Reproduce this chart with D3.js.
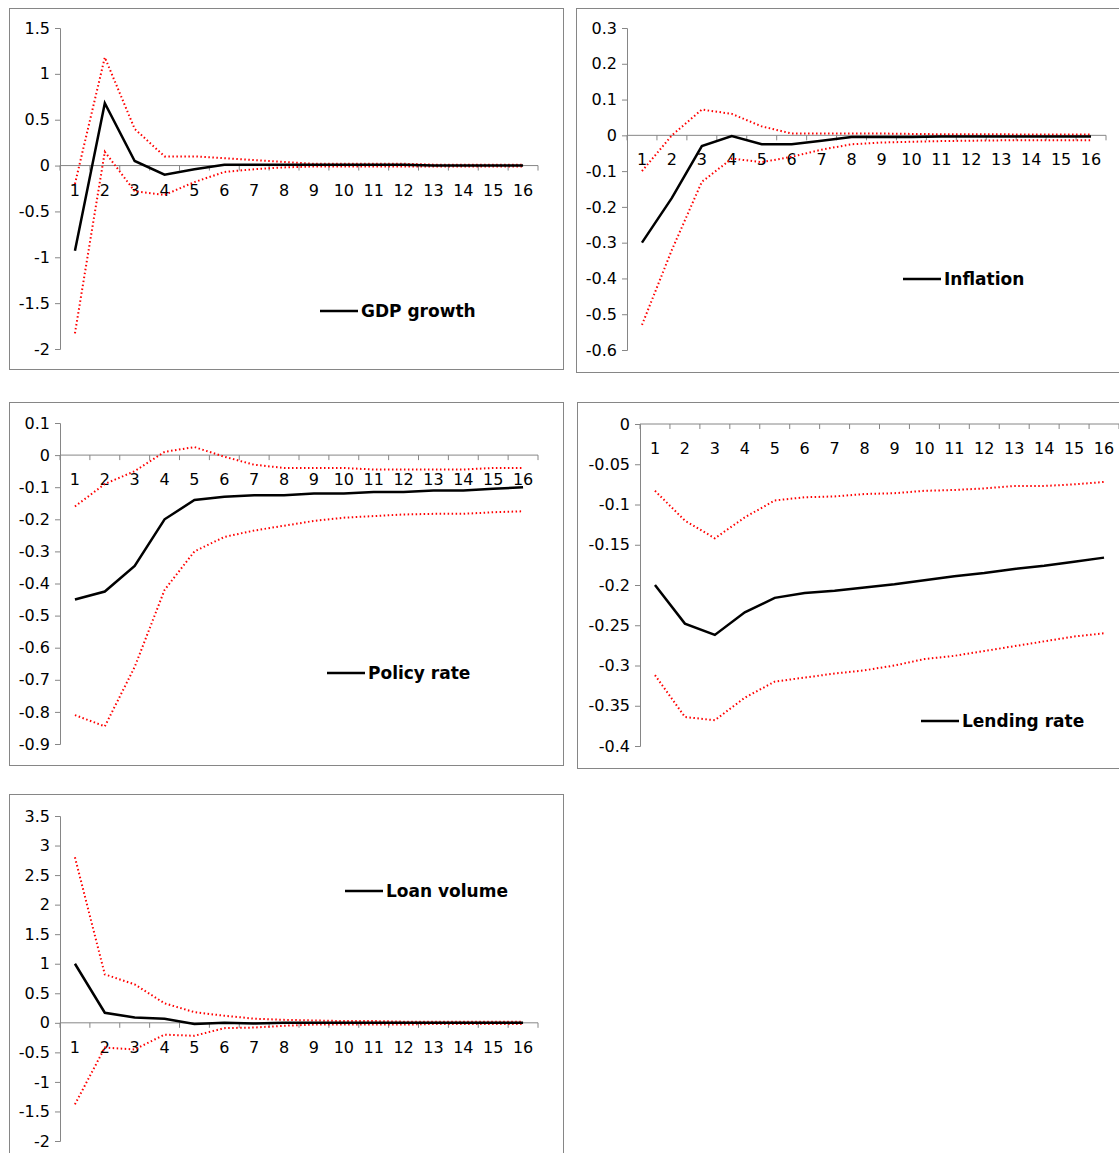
<!DOCTYPE html>
<html><head><meta charset="utf-8">
<script src="https://cdn.jsdelivr.net/npm/d3@7"></script>
<style>
body{margin:0;background:#fff;font-family:"DejaVu Sans",Verdana,sans-serif;}
</style></head><body>
<svg id="chart" width="1119" height="1153"></svg>
<script>
var periods = d3.range(1, 17);

var gdpMid = [-0.93,0.68,0.05,-0.1,-0.04,0.01,0.01,0.01,0.01,0.01,0.01,0.01,0,0,0,0];
var gdpUp  = [-0.2,1.18,0.4,0.1,0.1,0.08,0.06,0.04,0.02,0.02,0.02,0.02,0.01,0.01,0.01,0.01];
var gdpLo  = [-1.83,0.15,-0.28,-0.32,-0.18,-0.07,-0.04,-0.02,-0.01,-0.01,-0.01,-0.01,-0.01,-0.01,-0.01,-0.01];

var infMid = [-0.3,-0.175,-0.03,-0.002,-0.025,-0.025,-0.015,-0.005,-0.005,-0.005,-0.003,-0.003,-0.003,-0.003,-0.003,-0.003];
var infUp  = [-0.1,0,0.072,0.06,0.025,0.005,0.005,0.005,0.005,0.004,0.003,0.003,0.003,0.002,0.002,0.002];
var infLo  = [-0.53,-0.32,-0.13,-0.065,-0.075,-0.06,-0.04,-0.025,-0.02,-0.018,-0.016,-0.015,-0.014,-0.014,-0.014,-0.014];

var polMid = [-0.45,-0.425,-0.345,-0.2,-0.14,-0.13,-0.125,-0.125,-0.12,-0.12,-0.115,-0.115,-0.11,-0.11,-0.105,-0.1];
var polUp  = [-0.16,-0.09,-0.05,0.01,0.025,-0.005,-0.03,-0.04,-0.04,-0.04,-0.045,-0.045,-0.045,-0.045,-0.04,-0.04];
var polLo  = [-0.81,-0.845,-0.66,-0.42,-0.3,-0.255,-0.235,-0.22,-0.205,-0.195,-0.19,-0.185,-0.183,-0.183,-0.178,-0.175];

var lenMid = [-0.2,-0.248,-0.262,-0.234,-0.216,-0.21,-0.207,-0.203,-0.199,-0.194,-0.189,-0.185,-0.18,-0.176,-0.171,-0.166];
var lenUp  = [-0.083,-0.12,-0.142,-0.116,-0.095,-0.091,-0.09,-0.087,-0.086,-0.083,-0.082,-0.08,-0.077,-0.077,-0.075,-0.072];
var lenLo  = [-0.312,-0.364,-0.368,-0.34,-0.32,-0.315,-0.31,-0.306,-0.3,-0.292,-0.288,-0.282,-0.276,-0.27,-0.264,-0.26];

var loanMid = [1,0.17,0.09,0.07,-0.02,0,-0.01,0,0,0,0,0,0,0,0,0];
var loanUp  = [2.8,0.82,0.65,0.33,0.18,0.12,0.07,0.05,0.04,0.03,0.03,0.02,0.02,0.02,0.02,0.02];
var loanLo  = [-1.38,-0.42,-0.45,-0.2,-0.22,-0.09,-0.08,-0.05,-0.03,-0.03,-0.03,-0.03,-0.02,-0.02,-0.02,-0.02];

var panels = [
  {box:[9,8,554,361], ax:60, ax2:538, yTop:28, yBot:349, dom:[-2,1.5], step:0.5,
   mid:gdpMid, up:gdpUp, lo:gdpLo, name:"GDP growth", leg:[320,311]},
  {box:[576,8,543,364], ax:627, ax2:1106, yTop:28, yBot:350, dom:[-0.6,0.3], step:0.1,
   mid:infMid, up:infUp, lo:infLo, name:"Inflation", leg:[903,279]},
  {box:[9,402,554,363], ax:60, ax2:538, yTop:423, yBot:744, dom:[-0.9,0.1], step:0.1,
   mid:polMid, up:polUp, lo:polLo, name:"Policy rate", leg:[327,673]},
  {box:[577,402,542,366], ax:640, ax2:1119, yTop:424, yBot:746, dom:[-0.4,0], step:0.05,
   mid:lenMid, up:lenUp, lo:lenLo, name:"Lending rate", leg:[921,721]},
  {box:[9,794,554,370], ax:60, ax2:538, yTop:816, yBot:1141, dom:[-2,3.5], step:0.5,
   mid:loanMid, up:loanUp, lo:loanLo, name:"Loan volume", leg:[345,891]}
];

var svg = d3.select("#chart");

panels.forEach(function(p) {
  var g = svg.append("g");
  g.append("rect").attr("x", p.box[0]+0.5).attr("y", p.box[1]+0.5)
    .attr("width", p.box[2]).attr("height", p.box[3])
    .attr("fill", "#fff").attr("stroke", "#868686");

  var x = d3.scalePoint().domain(periods).range([p.ax, p.ax2]).padding(0.5);
  var y = d3.scaleLinear().domain(p.dom).range([p.yBot, p.yTop]);
  var ticks = d3.range(Math.round((p.dom[1]-p.dom[0])/p.step)+1).map(function(i){return +(p.dom[0]+i*p.step).toFixed(3);});

  var yAxis = d3.axisLeft(y).tickValues(ticks).tickSize(5).tickFormat(function(d){return d3.format("")(d).replace("−","-");});
  var ya = g.append("g").attr("transform","translate("+p.ax+",0)").call(yAxis);
  ya.select(".domain").attr("stroke","#868686");
  ya.selectAll(".tick line").attr("stroke","#868686");
  ya.selectAll("text").attr("font-size",16).attr("font-family","DejaVu Sans").attr("fill","#000").attr("x",-10);

  var y0 = y(0);
  var xa = g.append("g").attr("transform","translate(0,"+y0+")");
  xa.append("line").attr("x1",p.ax).attr("x2",p.ax2).attr("stroke","#868686");
  var bw = x.step();
  d3.range(17).forEach(function(i){
    var xx = p.ax + i*bw;
    xa.append("line").attr("x1",xx).attr("x2",xx).attr("y1",0).attr("y2",5).attr("stroke","#868686");
  });
  xa.selectAll("text.xl").data(periods).enter().append("text")
    .attr("x", function(d){return x(d);}).attr("y", 30)
    .attr("text-anchor","middle").attr("font-size",16).text(function(d){return d;});

  var line = d3.line().x(function(d,i){return x(periods[i]);}).y(function(d){return y(d);});
  [p.up, p.lo].forEach(function(s){
    g.append("path").attr("d", line(s)).attr("fill","none")
      .attr("stroke","#ff0000").attr("stroke-width",2).attr("stroke-dasharray","1.5,2.5");
  });
  g.append("path").attr("d", line(p.mid)).attr("fill","none")
    .attr("stroke","#000").attr("stroke-width",2.5);

  g.append("line").attr("x1",p.leg[0]).attr("x2",p.leg[0]+38).attr("y1",p.leg[1]).attr("y2",p.leg[1])
    .attr("stroke","#000").attr("stroke-width",2.5);
  g.append("text").attr("x",p.leg[0]+41).attr("y",p.leg[1]+6).attr("font-size",17)
    .attr("font-weight","bold").text(p.name);
});
</script>
</body></html>
